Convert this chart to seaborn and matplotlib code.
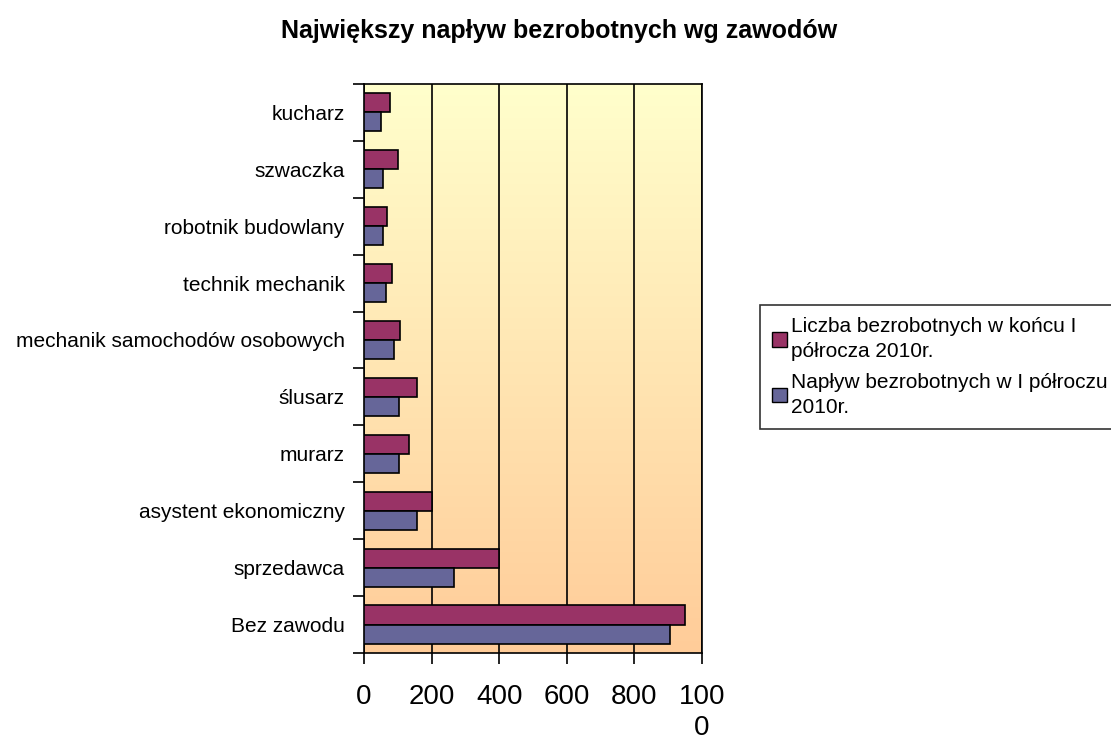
import numpy as np
import pandas as pd
import seaborn as sns
import matplotlib
matplotlib.use("Agg")
import matplotlib.pyplot as plt
from matplotlib.colors import LinearSegmentedColormap
from matplotlib.patches import Patch

# dane
zawody = ["kucharz", "szwaczka", "robotnik budowlany", "technik mechanik",
          "mechanik samochodów osobowych", "ślusarz", "murarz",
          "asystent ekonomiczny", "sprzedawca", "Bez zawodu"]
liczba_koniec = [77, 100, 67, 84, 106, 156, 133, 200, 400, 950]
naplyw = [49, 55, 55, 66, 88, 105, 105, 156, 267, 905]
seria_liczba = "Liczba bezrobotnych w końcu I\npółrocza 2010r."
seria_naplyw = "Napływ bezrobotnych w I półroczu\n2010r."
x_ticks = [0, 200, 400, 600, 800, 1000]
x_labels = ["0", "200", "400", "600", "800", "100\n0"]

sns.set_style("white")
plt.rcParams["font.family"] = ["Liberation Sans", "DejaVu Sans"]
plt.rcParams["text.color"] = "black"
plt.rcParams["xtick.color"] = "black"
plt.rcParams["ytick.color"] = "black"

df = pd.DataFrame({
    "zawod": zawody * 2,
    "wartosc": liczba_koniec + naplyw,
    "seria": [seria_liczba] * len(zawody) + [seria_naplyw] * len(zawody),
})

kolory = {seria_liczba: "#993366", seria_naplyw: "#666699"}

fig = plt.figure(figsize=(11.11, 7.40), dpi=100)
ax = fig.add_axes([0.3276, 0.1176, 0.3042, 0.769])

# tło z gradientem jak w Excelu
grad = LinearSegmentedColormap.from_list("tlo", ["#FFFFCC", "#FFCC99"])
ax.imshow(np.linspace(0, 1, 256).reshape(-1, 1), cmap=grad, aspect="auto",
          extent=[0, 1, 0, 1], transform=ax.transAxes, zorder=0)

sns.barplot(data=df, y="zawod", x="wartosc", hue="seria", orient="h",
            order=zawody, hue_order=[seria_liczba, seria_naplyw],
            palette=kolory, width=0.67, edgecolor="black", linewidth=1.2,
            saturation=1, legend=False, ax=ax, zorder=3)

ax.set_xlim(0, 1000)
ax.set_ylim(9.5, -0.5)
ax.set_xticks(x_ticks)
ax.set_xticklabels(x_labels, fontsize=20, linespacing=1.25)
ax.xaxis.grid(True, color="black", linewidth=1.2, zorder=1)
ax.set_axisbelow(True)

# kreski między kategoriami, podpisy na środku
ax.set_yticks(np.arange(-0.5, 10, 1))
ax.set_yticklabels([])
ax.set_yticks(np.arange(10), minor=True)
ax.set_yticklabels(zawody, minor=True, fontsize=15)
ax.tick_params(axis="y", which="major", direction="out", length=8, width=1.2,
               left=True, color="black")
ax.tick_params(axis="y", which="minor", length=0, pad=14)
ax.tick_params(axis="x", direction="out", length=8, width=1.2, bottom=True,
               color="black", pad=14)

for s in ax.spines.values():
    s.set_visible(True)
    s.set_color("black")
    s.set_linewidth(1.2)

ax.set_xlabel("")
ax.set_ylabel("")

fig.text(0.503, 0.958, "Największy napływ bezrobotnych wg zawodów",
         ha="center", va="center", fontsize=18, fontweight="bold")

uchwyty = [Patch(facecolor=kolory[s], edgecolor="black") for s in [seria_liczba, seria_naplyw]]
leg = fig.legend(uchwyty, [seria_liczba, seria_naplyw], loc="upper left",
                 bbox_to_anchor=(0.684, 0.588), fontsize=15, frameon=True,
                 fancybox=False, edgecolor="black", handlelength=0.7,
                 handleheight=0.7, handletextpad=0.2, borderpad=0.6,
                 borderaxespad=0, labelspacing=0.55)
leg.get_frame().set_linewidth(1.2)
for t in leg.get_texts():
    t.set_linespacing(1.4)

fig.savefig("out.png", dpi=100)
